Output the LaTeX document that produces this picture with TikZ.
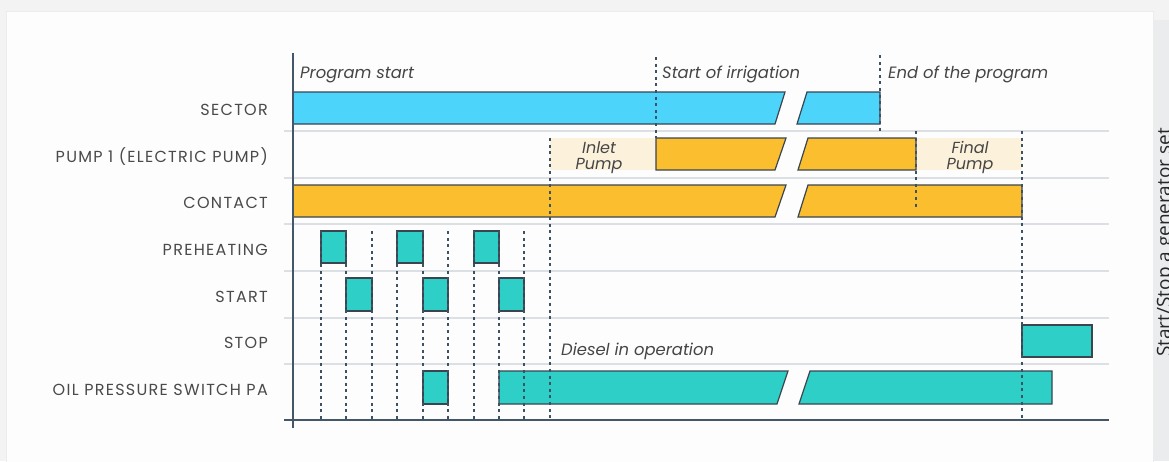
\documentclass[tikz,border=0pt]{standalone}
\usepackage{fontspec}
\setmainfont{Poppins}
\newfontfamily\labelfont[LetterSpace=8]{Poppins}
\newfontfamily\sidefont{Open Sans}
\definecolor{pagebg}{HTML}{F3F3F4}
\definecolor{panelbg}{HTML}{FDFDFD}
\definecolor{stripbg}{HTML}{EBECEE}
\definecolor{labelgray}{HTML}{4A4A4A}
\definecolor{notegray}{HTML}{454545}
\definecolor{edgecol}{HTML}{3A4550}
\definecolor{axiscol}{HTML}{44576A}
\definecolor{dashcol}{HTML}{3E5266}
\definecolor{sepgray}{HTML}{DCE0E4}
\definecolor{sectorblue}{HTML}{4DD4FA}
\definecolor{amber}{HTML}{FBBE2E}
\definecolor{teal}{HTML}{2DCFC6}
\definecolor{beige}{HTML}{FCF1DB}
\begin{document}
\begin{tikzpicture}[x=1pt,y=-1pt,
  rowlabel/.style={anchor=east, inner sep=0pt, text=labelgray,
    font=\labelfont\fontsize{16}{18}\selectfont},
  note/.style={anchor=west, inner sep=0pt, text=notegray,
    font=\itshape\fontsize{16.4}{18}\selectfont},
  pumpnote/.style={inner sep=0pt, text=notegray, align=center,
    font=\itshape\fontsize{16}{16.5}\selectfont},
  bar/.style={draw=edgecol, line width=1.2pt, line join=miter},
  sepline/.style={draw=sepgray, line width=1.3pt},
  axisline/.style={draw=axiscol, line width=1.5pt},
  marker/.style={draw=dashcol, line width=1.2pt, dash pattern=on 3pt off 3.6pt}]
\useasboundingbox (0,0) rectangle (1169,461);
\clip (0,0) rectangle (1169,461);

% page, panel and side strip
\fill[pagebg] (0,0) rectangle (1169,461);
\filldraw[fill=panelbg, draw=stripbg, line width=1pt] (6,11) rectangle (1153,470);
\fill[stripbg] (1153,20) rectangle (1169,461);
\node[rotate=90, anchor=base, inner sep=0pt, text=black!85,
  font=\sidefont\fontsize{19}{22}\selectfont] (side) at (1170.5,242.5) {Start/Stop a generator set};

% row separators
\foreach \yy in {131,178,224,271,318,364}
  \draw[sepline] (284,\yy) -- (1109,\yy);

% shaded pump phases
\fill[beige] (550,138) rectangle (656,170);
\fill[beige] (916,138) rectangle (1022,170);
\node[pumpnote] (inlet) at (599,157.5) {Inlet\\Pump};
\node[pumpnote] (final) at (970,157.5) {Final\\Pump};

% SECTOR
\filldraw[bar, fill=sectorblue] (293,92) -- (785,92) -- (775,124) -- (293,124) -- cycle;
\filldraw[bar, fill=sectorblue] (807,92) -- (880,92) -- (880,124) -- (797,124) -- cycle;
% PUMP 1
\filldraw[bar, fill=amber] (656,138) -- (786,138) -- (775,170) -- (656,170) -- cycle;
\filldraw[bar, fill=amber] (808,138) -- (916,138) -- (916,170) -- (798,170) -- cycle;
% CONTACT
\filldraw[bar, fill=amber] (293,185) -- (786,185) -- (775,217) -- (293,217) -- cycle;
\filldraw[bar, fill=amber] (808,185) -- (1022,185) -- (1022,217) -- (798,217) -- cycle;
% PREHEATING
\foreach \xa/\xb in {321/346,397/423,474/499}
  \filldraw[bar, fill=teal] (\xa,231) rectangle (\xb,263);
% START
\foreach \xa/\xb in {346/372,423/448,499/524}
  \filldraw[bar, fill=teal] (\xa,278) rectangle (\xb,311);
% STOP
\filldraw[bar, fill=teal] (1022,325) rectangle (1092,357);
% OIL PRESSURE SWITCH PA
\filldraw[bar, fill=teal] (423,371) rectangle (448,404);
\filldraw[bar, fill=teal] (499,371) -- (788,371) -- (777,404) -- (499,404) -- cycle;
\filldraw[bar, fill=teal] (810,371) -- (1052,371) -- (1052,404) -- (799,404) -- cycle;

% event markers
\foreach \xx in {321,346,372,397,423,448,474,499,524}
  \draw[marker] (\xx,231) -- (\xx,420);
\draw[marker] (550,138) -- (550,420);
\draw[marker] (656,57) -- (656,138);
\draw[marker] (880,55) -- (880,131);
\draw[marker] (916,131) -- (916,207);
\draw[marker] (1022,131) -- (1022,420);

% axes
\draw[axisline] (293,53) -- (293,428);
\draw[axisline] (284,420) -- (1109,420);

% event captions
\node[note] (pstart) at (300,74.5) {Program start};
\node[note] (irr) at (662,74.5) {Start of irrigation};
\node[note] (pend) at (888,74.5) {End of the program};
\node[note] (diesel) at (561,351) {Diesel in operation};

% row labels
\node[rowlabel] (lsector) at (268,109.5) {SECTOR};
\node[rowlabel] (lpump) at (268,156.5) {PUMP 1 (ELECTRIC PUMP)};
\node[rowlabel] (lcontact) at (268,202.5) {CONTACT};
\node[rowlabel] (lpre) at (268,249.5) {PREHEATING};
\node[rowlabel] (lstart) at (268,296.5) {START};
\node[rowlabel] (lstop) at (268,343) {STOP};
\node[rowlabel] (loil) at (268,389.5) {OIL PRESSURE SWITCH PA};
\end{tikzpicture}
\end{document}
